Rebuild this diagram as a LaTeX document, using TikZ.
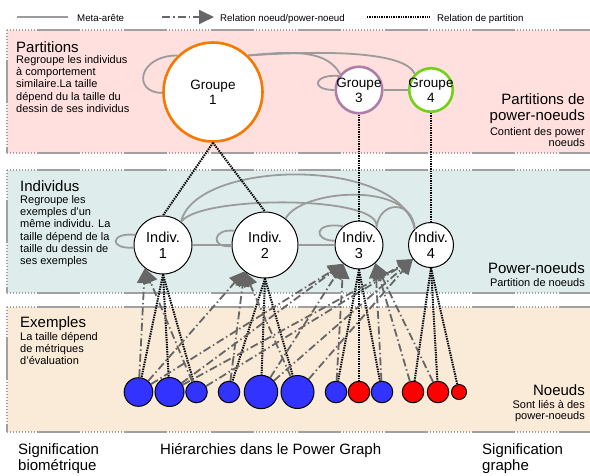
\documentclass[tikz,border=0pt]{standalone}
\usepackage{fontspec}
\setmainfont{Liberation Sans}
\usetikzlibrary{arrows.meta}
\definecolor{pinkband}{RGB}{255,224,222}
\definecolor{tealband}{RGB}{222,237,236}
\definecolor{beigeband}{RGB}{250,234,216}
\definecolor{bordergray}{RGB}{160,160,160}
\definecolor{metagray}{RGB}{155,155,155}
\definecolor{arrowgray}{RGB}{102,102,102}
\definecolor{grporange}{RGB}{245,121,0}
\definecolor{grppurple}{RGB}{173,127,168}
\definecolor{grpgreen}{RGB}{115,210,22}
\definecolor{exblue}{RGB}{51,51,255}
\definecolor{exred}{RGB}{255,0,0}
\newcommand\txtL[2]{\vtop{\baselineskip=#1\lineskiplimit=-100pt\halign{##\hfil\cr#2\crcr}}}
\newcommand\txtR[2]{\vtop{\baselineskip=#1\lineskiplimit=-100pt\halign{\hfil##\cr#2\crcr}}}
\begin{document}
\begin{tikzpicture}[x=1pt,y=-1pt,
  bandedge/.style={draw=bordergray, line width=1.3pt, dash pattern=on 43pt off 44pt,
    preaction={draw=bordergray, line width=1.1pt, dash pattern=on 1pt off 2pt}},
  meta/.style={draw=metagray, line width=1.8pt},
  rel/.style={draw=arrowgray, line width=1.8pt, dash pattern=on 8pt off 3pt on 1.5pt off 3pt,
    -{Triangle[length=15pt,width=14pt]}},
  part/.style={draw=black, line width=2pt, dash pattern=on 1.4pt off 1pt},
  grp/.style={circle, fill=white, line width=2.6pt, inner sep=0pt},
  ind/.style={circle, draw=black, fill=white, line width=1pt, inner sep=0pt},
  ex/.style={circle, draw=black, line width=1pt, inner sep=0pt},
  grptext/.style={align=center, inner sep=0pt, font=\fontsize{13.5}{15}\selectfont},
  indtext/.style={align=center, inner sep=0pt, font=\fontsize{14.5}{16}\selectfont},
  legendtext/.style={anchor=base west, inner sep=0pt, font=\fontsize{9.7}{11}\selectfont},
  head/.style={inner sep=0pt, font=\fontsize{15}{16}\selectfont},
  sub/.style={inner sep=0pt, font=\fontsize{11}{12.2}\selectfont}
]
\useasboundingbox (0,0) rectangle (590,475);
\clip (0,0) rectangle (590,475);

% bands
\fill[pinkband] (7,30) rectangle (600,153);
\fill[tealband] (7,170) rectangle (600,293);
\fill[beigeband] (7,307) rectangle (600,432);
\foreach \t/\b in {30/153,170/293,307/432}{
  \draw[bandedge, dash phase=57pt] (7,\t) -- (600,\t);
  \draw[bandedge, dash phase=57pt] (7,\b) -- (600,\b);
  \draw[bandedge, dash phase=57pt] (7,\t) -- (7,\b);
}

% legend
\coordinate (lm1) at (17,17); \coordinate (lm2) at (68,17);
\draw[meta] (lm1) -- (lm2);
\node[legendtext] (lmt) at (77,21) {Meta-arête};
\coordinate (lr1) at (162,17); \coordinate (lr2) at (214,17);
\draw[rel] (lr1) -- (lr2);
\node[legendtext] (lrt) at (220,21) {Relation noeud/power-noeud};
\coordinate (lp1) at (367,17); \coordinate (lp2) at (430,17);
\draw[part] (lp1) -- (lp2);
\node[legendtext] (lpt) at (437,21) {Relation de partition};

% side texts
\node[head, anchor=base west] (hP) at (16,52) {Partitions};
\node[sub, anchor=base west] (sP) at (16,63.5) {\txtL{12.2pt}{Regroupe les individus\cr à comportement\cr similaire.La taille\cr dépend du la taille du\cr dessin de ses individus}};
\node[head, anchor=base west] (hI) at (20,191) {Individus};
\node[sub, anchor=base west] (sI) at (20,203.5) {\txtL{12.2pt}{Regroupe les\cr exemples d’un\cr même individu. La\cr taille dépend de la\cr taille du dessin de\cr ses exemples}};
\node[head, anchor=base west] (hE) at (20,327) {Exemples};
\node[sub, anchor=base west] (sE) at (20,340) {\txtL{12pt}{La taille dépend\cr de métriques\cr d’évaluation}};

\node[head, anchor=base east] (hPR) at (585,104) {\txtR{16pt}{Partitions de\cr power-noeuds}};
\node[sub, anchor=base east] (sPR) at (585,135) {\txtR{11.5pt}{Contient des power\cr noeuds}};
\node[head, anchor=base east] (hIR) at (585,273) {Power-noeuds};
\node[sub, anchor=base east] (sIR) at (585,286) {Partition de noeuds};
\node[head, anchor=base east] (hER) at (585,395) {Noeuds};
\node[sub, anchor=base east] (sER) at (585,408) {\txtR{11.5pt}{Sont liés à des\cr power-noeuds}};

\node[head, anchor=base west] (bL) at (18,454) {\txtL{16.7pt}{Signification\cr biométrique}};
\node[head, anchor=base west] (bM) at (160,454) {Hiérarchies dans le Power Graph};
\node[head, anchor=base west] (bR) at (482,454) {\txtL{16.7pt}{Signification\cr graphe}};

% partition nodes
\node[grp, draw=grporange, minimum size=99pt, label={[grptext]center:Groupe\\1}] (G1) at (213,92) {};
\node[grp, draw=grppurple, minimum size=46.5pt, label={[grptext]center:Groupe\\3}] (G3) at (359,90) {};
\node[grp, draw=grpgreen, minimum size=43.5pt, label={[grptext]center:Groupe\\4}] (G4) at (431,90) {};

% individus
\node[ind, minimum size=58pt, label={[indtext]center:Indiv.\\1}] (I1) at (163,245) {};
\node[ind, minimum size=66pt, label={[indtext]center:Indiv.\\2}] (I2) at (265,245) {};
\node[ind, minimum size=48pt, label={[indtext]center:Indiv.\\3}] (I3) at (359,245) {};
\node[ind, minimum size=45pt, label={[indtext]center:Indiv.\\4}] (I4) at (431,245) {};

% exemples
\node[ex, fill=exblue, minimum size=28.6pt] (B1) at (138.5,392) {};
\node[ex, fill=exblue, minimum size=29pt] (B2) at (169.5,392) {};
\node[ex, fill=exblue, minimum size=21.5pt] (B3) at (196.5,392) {};
\node[ex, fill=exblue, minimum size=21.5pt] (B4) at (229,392) {};
\node[ex, fill=exblue, minimum size=33.4pt] (B5) at (261,392) {};
\node[ex, fill=exblue, minimum size=33pt] (B6) at (297.5,392) {};
\node[ex, fill=exblue, minimum size=21.5pt] (B7) at (336,392) {};
\node[ex, fill=exred, minimum size=21.5pt] (R1) at (359,392) {};
\node[ex, fill=exblue, minimum size=21.5pt] (B8) at (382,392) {};
\node[ex, fill=exred, minimum size=21.5pt] (R2) at (413,392) {};
\node[ex, fill=exred, minimum size=21.5pt] (R3) at (438,392) {};
\node[ex, fill=exred, minimum size=15pt] (R4) at (459,392) {};

% meta-edges (partitions)
\draw[meta] (G1.134) .. controls +(-40,0) and +(-30,0) .. (G1.181);
\draw[meta] (G1.46) .. controls (300,50) and (328,52) .. (G3.140);
\draw[meta] (G1.46) .. controls (330,50) and (405,52) .. (G4.135);
\draw[meta] (G3.145) .. controls +(-25,-2) and +(-25,0) .. (G3.180);
\draw[meta] (G3) -- (G4);

% meta-edges (individus)
\draw[meta] (I1.160) .. controls +(-25,-3) and +(-25,2) .. (I1.185);
\draw[meta] (I2.155) .. controls +(-22,-3) and +(-22,2) .. (I2.182);
\draw[meta] (I3.130) .. controls +(-30,-5) and +(-22,0) .. (I3.170);
\draw[meta] (I1) -- (I2);
\draw[meta] (I2) -- (I3);
\draw[meta] (I1.52) .. controls (195,160) and (398,155) .. (I4.135);
\draw[meta] (I1.52) .. controls (200,195) and (385,195) .. (I3.45);
\draw[meta] (I2.52) .. controls (300,190) and (410,180) .. (I4.135);
\draw[meta] (I3.45) .. controls (380,200) and (412,200) .. (I4.135);

% partition relations
\draw[part] (G1.south) -- (I1.north);
\draw[part] (G1.south) -- (I2.north);
\draw[part] (G3.south) -- (I3.north);
\draw[part] (G4.south) -- (I4.north);
\foreach \p/\c in {I1/B1,I1/B2,I1/B3,I2/B4,I2/B5,I2/B6,I3/B7,I3/R1,I3/B8,I4/R2,I4/R3,I4/R4}{
  \draw[part] (\p.south) -- (\c);
}

% node / power-node relations
\foreach \c/\t in {B1/I1.232,B3/I1.232,
                   B1/I2.232,B4/I2.232,B6/I2.232,
                   B1/I3.230,B2/I3.230,B5/I3.230,B7/I3.230,
                   B8/I3.312,R2/I3.312,R3/I3.312,
                   B2/I4.218,B3/I4.218,B5/I4.218,B6/I4.218}{
  \draw[rel] (\c) -- (\t);
}
\end{tikzpicture}
\end{document}
